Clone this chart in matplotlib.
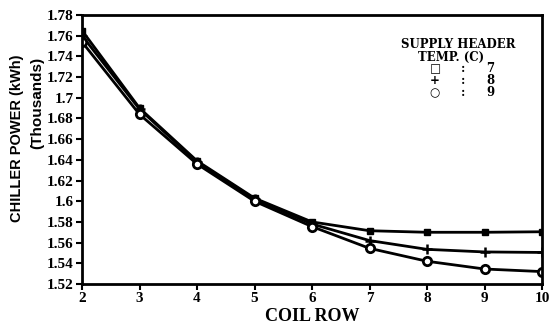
import matplotlib
matplotlib.use("Agg")
import matplotlib.pyplot as plt

coil_row = [2, 3, 4, 5, 6, 7, 8, 9, 10]
temp7 = [1.765, 1.690, 1.639, 1.603, 1.580, 1.5715, 1.570, 1.570, 1.5705]
temp8 = [1.760, 1.689, 1.638, 1.602, 1.578, 1.562, 1.5535, 1.551, 1.5505]
temp9 = [1.754, 1.684, 1.636, 1.600, 1.5755, 1.5545, 1.542, 1.5345, 1.532]

yticks = [1.52, 1.54, 1.56, 1.58, 1.6, 1.62, 1.64, 1.66, 1.68, 1.7, 1.72, 1.74, 1.76, 1.78]
ytick_labels = ["1.52", "1.54", "1.56", "1.58", "1.6", "1.62", "1.64", "1.66", "1.68",
                "1.7", "1.72", "1.74", "1.76", "1.78"]

font = "Liberation Serif"
sans = "Liberation Sans"

fig = plt.figure(figsize=(5.59, 3.26), dpi=100)
ax = fig.add_axes([0.1467, 0.1288, 0.8229, 0.8252])

lw = 2.0
ax.plot(coil_row, temp7, color="black", lw=lw, marker="s", ms=4, mfc="black", mec="black")
ax.plot(coil_row, temp8, color="black", lw=lw, marker="+", ms=7, mew=1.8)
ax.plot(coil_row, temp9, color="black", lw=lw, marker="o", ms=6, mfc="white", mec="black", mew=2)

ax.set_xlim(2, 10)
ax.set_ylim(1.52, 1.78)
ax.set_xticks(coil_row)
ax.set_xticklabels([str(c) for c in coil_row], fontfamily=font, fontweight="bold", fontsize=11)
ax.set_yticks(yticks)
ax.set_yticklabels(ytick_labels, fontfamily=font, fontweight="bold", fontsize=11)
ax.tick_params(axis="both", direction="out", length=4, width=1.5, pad=2)
for s in ax.spines.values():
    s.set_linewidth(2)

ax.set_xlabel("COIL ROW", fontfamily=font, fontweight="bold", fontsize=13, labelpad=2)
fig.text(17 / 559, 1 - 138 / 326, "CHILLER POWER (kWh)", rotation=90, ha="center", va="center",
         fontfamily=sans, fontweight="bold", fontsize=10.5)
fig.text(37 / 559, 1 - 103 / 326, "(Thousands)", rotation=90, ha="center", va="center",
         fontfamily=sans, fontweight="bold", fontsize=11)

leg_font = "DejaVu Serif"
tx = dict(fontfamily=leg_font, fontweight="bold", fontsize=8.5, ha="center", va="center")
fig.text(458 / 559, 1 - 45 / 326, "SUPPLY HEADER", **tx)
fig.text(451 / 559, 1 - 57 / 326, "TEMP. (C)", **tx)
symbols = ["\u25a1", "+", "\u25cb"]
vals = ["7", "8", "9"]
for i, (s, v) in enumerate(zip(symbols, vals)):
    y = 1 - (69 + i * 12) / 326
    fig.text(435 / 559, y, s, fontfamily="DejaVu Sans", fontweight="bold", fontsize=8.5,
             ha="center", va="center")
    fig.text(463 / 559, y, ":", **tx)
    fig.text(490 / 559, y, v, **tx)

fig.savefig("out.png", dpi=100)
